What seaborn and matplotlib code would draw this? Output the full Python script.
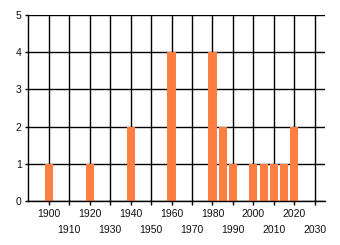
import matplotlib
matplotlib.use("Agg")
import matplotlib.pyplot as plt
import seaborn as sns
import numpy as np

years = [1900, 1920, 1940, 1960, 1980, 1985, 1990, 2000, 2005, 2010, 2015, 2020]
counts = [1, 1, 2, 4, 4, 2, 1, 1, 1, 1, 1, 2]
major_ticks = [1900, 1920, 1940, 1960, 1980, 2000, 2020]
minor_ticks = [1910, 1930, 1950, 1970, 1990, 2010, 2030]
y_ticks = [0, 1, 2, 3, 4, 5]

sns.set_style("white")
plt.rcParams['font.family'] = ['Liberation Sans', 'DejaVu Sans']

fig = plt.figure(figsize=(3.4, 2.45), dpi=100)
ax = fig.add_axes([28/340, 44/245, 297/340, 186/245])

sns.barplot(x=years, y=counts, native_scale=True, color="#FF7F40",
            saturation=1, width=0.8, linewidth=0, ax=ax)

ax.set_xlim(1889.8, 2035)
ax.set_ylim(0, 5)
ax.set_yticks(y_ticks)
ax.set_xticks(major_ticks)
ax.set_xticks(minor_ticks, minor=True)
ax.set_xticklabels([str(t) for t in major_ticks])
ax.set_xticklabels([str(t) for t in minor_ticks], minor=True)

ax.set_axisbelow(True)
ax.grid(True, which='both', color='black', linewidth=1)

for s in ['top', 'right']:
    ax.spines[s].set_visible(False)
for s in ['left', 'bottom']:
    ax.spines[s].set_color('black')
    ax.spines[s].set_linewidth(1)

fs = 7.5
ax.tick_params(axis='y', which='major', length=2.5, width=1, color='black',
               pad=2, labelsize=fs, labelcolor='#111111', left=True)
ax.tick_params(axis='x', which='major', length=3, width=1, color='black',
               pad=3, labelsize=fs, labelcolor='#111111', bottom=True)
ax.tick_params(axis='x', which='minor', length=3, width=1, color='black',
               pad=14, labelsize=fs, labelcolor='#111111', bottom=True)

ax.set_xlabel("")
ax.set_ylabel("")

fig.savefig("out.png", dpi=100)
